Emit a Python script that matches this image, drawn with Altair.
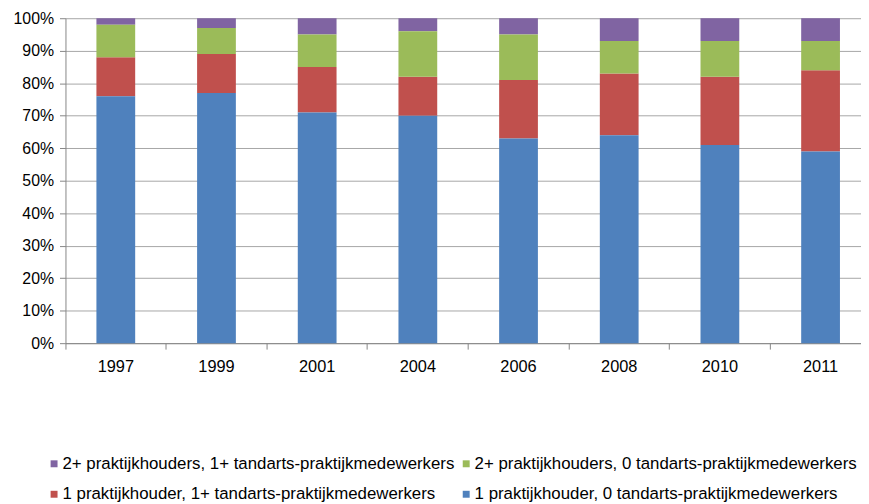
import altair as alt
import pandas as pd

years = ["1997", "1999", "2001", "2004", "2006", "2008", "2010", "2011"]
s_blue = [76, 77, 71, 70, 63, 64, 61, 59]
s_red = [12, 12, 14, 12, 18, 19, 21, 25]
s_green = [10, 8, 10, 14, 14, 10, 11, 9]
s_purple = [2, 3, 5, 4, 5, 7, 7, 7]

name_purple = "2+ praktijkhouders, 1+ tandarts-praktijkmedewerkers"
name_green = "2+ praktijkhouders, 0 tandarts-praktijkmedewerkers"
name_red = "1 praktijkhouder, 1+ tandarts-praktijkmedewerkers"
name_blue = "1 praktijkhouder, 0 tandarts-praktijkmedewerkers"

# legend is filled column by column: purple, red | green, blue
series_names = [name_purple, name_red, name_green, name_blue]
series_colors = ["#8064A2", "#C0504D", "#9BBB59", "#4F81BD"]
series_values = [s_purple, s_red, s_green, s_blue]
stack_rank = [3, 1, 2, 0]

rows = []
for name, vals, rank in zip(series_names, series_values, stack_rank):
    for y, v in zip(years, vals):
        rows.append({"year": y, "series": name, "value": v / 100, "rank": rank})
df = pd.DataFrame(rows)

FONT = "Liberation Sans"

chart = alt.Chart(df).mark_bar(width=alt.RelativeBandSize(0.385)).encode(
    x=alt.X("year:N", sort=years, title=None,
            scale=alt.Scale(range=[0, 813], paddingInner=0, paddingOuter=0),
            axis=alt.Axis(labelAngle=0, labelFontSize=16.5, labelFont=FONT, labelColor="#000",
                          tickColor="#868686", domainColor="#868686", tickSize=6,
                          bandPosition=0, labelPadding=10, grid=False, labelBound=False)),
    y=alt.Y("value:Q", stack="zero", title=None,
            scale=alt.Scale(domain=[0, 1], nice=False),
            axis=alt.Axis(format=".0%", values=[i / 10 for i in range(11)],
                          labelFontSize=16, labelFont=FONT, labelColor="#000",
                          tickColor="#868686", domainColor="#868686", tickSize=6,
                          gridColor="#a6a6a6", labelPadding=6)),
    color=alt.Color("series:N", sort=series_names,
                    scale=alt.Scale(domain=series_names, range=series_colors),
                    legend=alt.Legend(orient="none", legendX=-20, legendY=441, columns=2,
                                      title=None, symbolType="square", symbolSize=49,
                                      symbolStrokeWidth=0, labelFontSize=17, labelFont=FONT,
                                      labelColor="#000", rowPadding=13, columnPadding=3,
                                      labelOffset=0, labelLimit=600)),
    order=alt.Order("rank:Q", sort="ascending"),
).properties(
    width=795, height=328,
    autosize=alt.AutoSizeParams(type="none"),
    padding={"left": 58, "top": 8, "right": 8, "bottom": 158},
).configure_view(stroke=None)

chart.save("out.html", embed_options={"renderer": "svg", "actions": False})
